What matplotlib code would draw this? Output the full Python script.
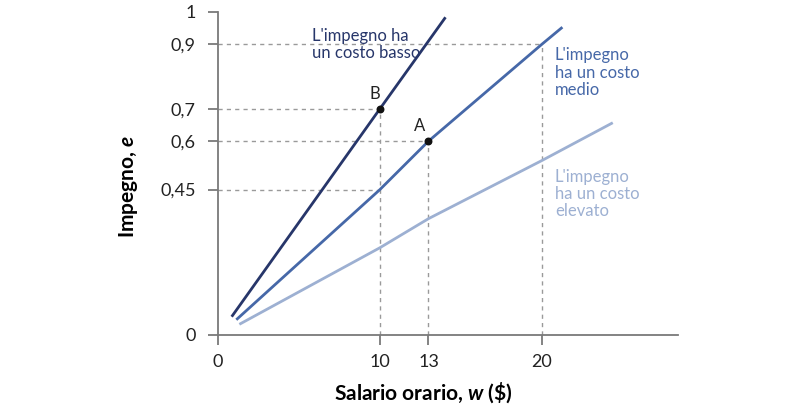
import numpy as np
import matplotlib
matplotlib.use('Agg')
import matplotlib.pyplot as plt

plt.rcParams['font.family'] = ['Lato', 'DejaVu Sans']
plt.rcParams['mathtext.fontset'] = 'custom'
plt.rcParams['mathtext.it'] = 'Lato:bold:italic'
plt.rcParams['mathtext.rm'] = 'Lato:bold'

# lines (wage w, effort e)
w_low = [0.9, 10, 14.0]
e_low = [0.06, 0.7, 0.98]
w_mid = [1.2, 10, 13, 20, 21.2]
e_mid = [0.05, 0.45, 0.6, 0.9, 0.95]
w_high = [1.4, 10, 13, 20, 24.3]
e_high = [0.035, 0.27, 0.36, 0.54, 0.655]

points_w = [10, 13]
points_e = [0.7, 0.6]
points_lab = ['B', 'A']
lab_shift = [-5, -9]

xticks = [0, 10, 13, 20]
yticks = [0, 0.45, 0.6, 0.7, 0.9, 1]
ytick_labels = ['0', '0,45', '0,6', '0,7', '0,9', '1']

c_low = '#27366a'
c_mid = '#4668a8'
c_high = '#9db0d2'
grey = '#7a7a7a'

fig = plt.figure(figsize=(8.1, 4.12), dpi=100)
ax = fig.add_axes([0.269, 0.187, 0.568, 0.784])

# dashed guide lines
dash = dict(color='#9a9a9a', lw=1, ls=(0, (3, 3)), zorder=1)
ax.plot([0, 20], [0.9, 0.9], **dash)
ax.plot([20, 20], [0, 0.9], **dash)
ax.plot([0, 10], [0.7, 0.7], **dash)
ax.plot([10, 10], [0, 0.7], **dash)
ax.plot([0, 13], [0.6, 0.6], **dash)
ax.plot([13, 13], [0, 0.6], **dash)
ax.plot([0, 10], [0.45, 0.45], **dash)

ax.plot(w_low, e_low, color=c_low, lw=2, zorder=3)
ax.plot(w_mid, e_mid, color=c_mid, lw=2, zorder=3)
ax.plot(w_high, e_high, color=c_high, lw=2, zorder=3)

ax.scatter(points_w, points_e, s=22, color='#111111', zorder=4)
for w, e, lab, dx in zip(points_w, points_e, points_lab, lab_shift):
    ax.annotate(lab, (w, e), xytext=(dx, 7), textcoords='offset pixels',
                ha='center', va='bottom', fontsize=12, color='#222222')

ax.text(5.8, 0.95, "L'impegno ha\nun costo basso", color=c_low, fontsize=12,
        va='top', ha='left', linespacing=1.1)
ax.text(20.8, 0.89, "L'impegno\nha un costo\nmedio", color=c_mid, fontsize=12,
        va='top', ha='left', linespacing=1.1)
ax.text(20.8, 0.515, "L'impegno\nha un costo\nelevato", color=c_high, fontsize=12,
        va='top', ha='left', linespacing=1.1)

ax.set_xlim(0, 28.4)
ax.set_ylim(0, 1)
ax.set_xticks(xticks)
ax.set_yticks(yticks)
ax.set_yticklabels(ytick_labels)
for s in ['top', 'right']:
    ax.spines[s].set_visible(False)
for s in ['left', 'bottom']:
    ax.spines[s].set_color(grey)
    ax.spines[s].set_linewidth(1.3)
ax.tick_params(direction='out', length=7, width=1.3, color=grey,
               labelsize=13, labelcolor='#222222')
ax.tick_params(axis='y', pad=9)
ax.tick_params(axis='x', pad=7)

ax.set_xlabel('Salario orario, $w$ (\\$)', fontsize=15, fontweight='bold')
ax.set_ylabel('Impegno, $e$', fontsize=15, fontweight='bold')
ax.xaxis.set_label_coords(0.446, -0.14)
ax.yaxis.set_label_coords(-0.17, 0.458)

fig.savefig('out.png', dpi=100)
